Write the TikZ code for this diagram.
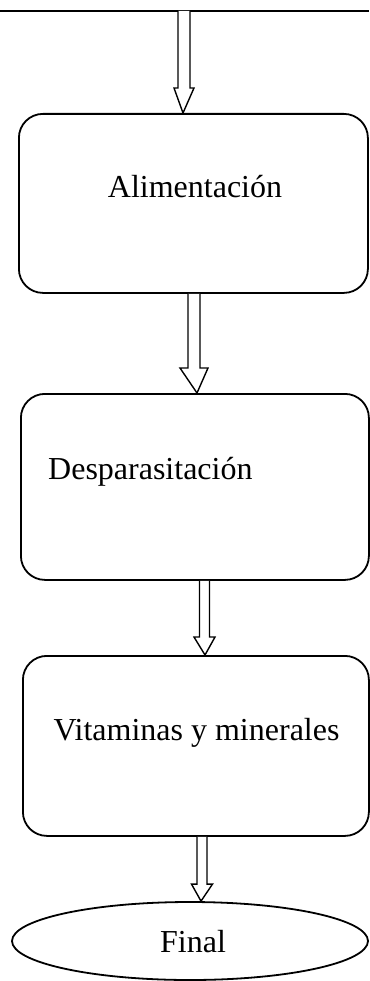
\documentclass[tikz,border=0pt]{standalone}
\usepackage{fontspec}
\setmainfont{Liberation Serif}
\usetikzlibrary{shapes.geometric,calc}
\tikzset{
  box/.style={draw, line width=1.8pt, rounded corners=24pt, inner sep=0pt, anchor=north west},
  endell/.style={draw, ellipse, line width=1.8pt, inner sep=0pt, minimum width=356pt, minimum height=78pt},
  lbl/.style={inner sep=0pt, font=\fontsize{32}{38}\selectfont},
  hollow/.style={draw, line width=1.4pt, fill=white, line join=miter},
  topline/.style={line width=1.4pt}
}
% #1 centre x, #2 from, #3 to, #4 shaft half width, #5 head half width, #6 head length, #7 tip x
\newcommand{\harrow}[7]{%
  \draw[hollow] let \p1=(#2), \p2=(#3) in
    ({#1pt-#4pt},\y1) -- ({#1pt-#4pt},{\y2+#6pt}) -- ({#1pt-#5pt},{\y2+#6pt}) --
    (#7pt,\y2) -- ({#1pt+#5pt},{\y2+#6pt}) -- ({#1pt+#4pt},{\y2+#6pt}) -- ({#1pt+#4pt},\y1);
}
\begin{document}
\begin{tikzpicture}[x=1pt,y=-1pt]
\useasboundingbox (0,0) rectangle (369,981);
\draw[topline] (0,11) coordinate (tl) -- (369,11) coordinate (tr);

\node[box, minimum width=349pt, minimum height=179pt] (b1) at (18,113) {};
\node[box, minimum width=348pt, minimum height=186pt] (b2) at (20,393) {};
\node[box, minimum width=346pt, minimum height=180pt] (b3) at (22,655) {};
\node[endell] (e) at (190,941) {};

\node[lbl, anchor=base] (t1) at (195,198) {Alimentación};
\node[lbl, anchor=base west] (t2) at (48,479) {Desparasitación};
\node[lbl, anchor=base] (t3) at (196.5,740) {Vitaminas y minerales};
\node[lbl, anchor=base] (t4) at (193,952) {Final};

\harrow{184}{tl}{b1.north}{6}{10}{25}{183}
\harrow{194}{b1.south}{b2.north}{6}{14}{25}{197}
\harrow{204.5}{b2.south}{b3.north}{5}{10.5}{18}{205}
\harrow{202}{b3.south}{e.north}{5}{10.5}{17}{201}
\end{tikzpicture}
\end{document}
